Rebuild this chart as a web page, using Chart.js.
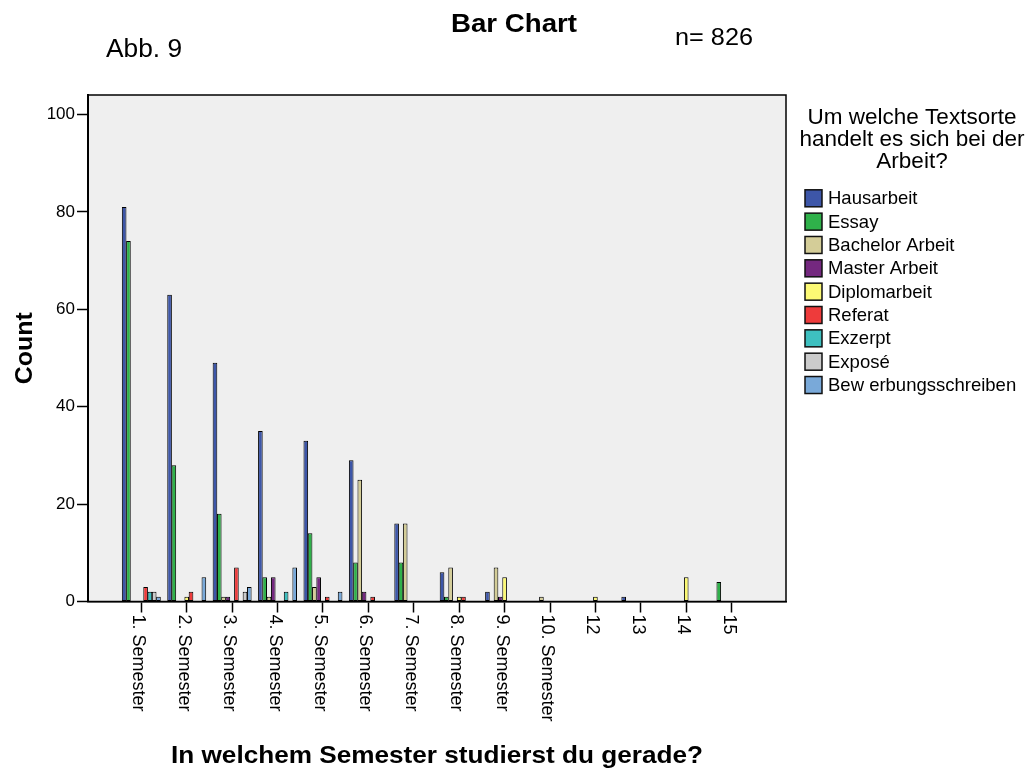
<!DOCTYPE html>
<html>
<head>
<meta charset="utf-8">
<script src="https://cdn.jsdelivr.net/npm/chart.js@4.4.1/dist/chart.umd.min.js"></script>
<style>
  html, body { margin: 0; padding: 0; background: #fff; }
  #wrap { width: 1029px; height: 769px; }
</style>
</head>
<body>
<div id="wrap"><canvas id="chart" width="1029" height="769"></canvas></div>
<script>
// Kategorien (x-Achse)
const semesterLabels = ['1. Semester', '2. Semester', '3. Semester', '4. Semester', '5. Semester',
  '6. Semester', '7. Semester', '8. Semester', '9. Semester', '10. Semester', '12', '13', '14', '15'];

// Anzahl je Textsorte, in der Reihenfolge der Kategorien
const hausarbeit     = [81, 63, 49, 35, 33, 29, 16, 6, 2, 0, 0, 1, 0, 0];
const essay          = [74, 28, 18, 5, 14, 8, 8, 1, 0, 0, 0, 0, 0, 4];
const bachelorArbeit = [0, 0, 1, 1, 3, 25, 16, 7, 7, 1, 0, 0, 0, 0];
const masterArbeit   = [0, 0, 1, 5, 5, 2, 0, 0, 1, 0, 0, 0, 0, 0];
const diplomarbeit   = [0, 1, 0, 0, 0, 0, 0, 1, 5, 0, 1, 0, 5, 0];
const referat        = [3, 2, 7, 0, 1, 1, 0, 1, 0, 0, 0, 0, 0, 0];
const exzerpt        = [2, 0, 0, 2, 0, 0, 0, 0, 0, 0, 0, 0, 0, 0];
const expose         = [2, 0, 2, 0, 0, 0, 0, 0, 0, 0, 0, 0, 0, 0];
const bewerbung      = [1, 5, 3, 7, 2, 0, 0, 0, 0, 0, 0, 0, 0, 0];

const seriesNames = ['Hausarbeit', 'Essay', 'Bachelor Arbeit', 'Master Arbeit', 'Diplomarbeit',
  'Referat', 'Exzerpt', 'Exposé', 'Bew erbungsschreiben'];
const seriesData = [hausarbeit, essay, bachelorArbeit, masterArbeit, diplomarbeit,
  referat, exzerpt, expose, bewerbung];
const seriesColors = ['#3d56a8', '#2fb14a', '#d4cd98', '#74287f', '#fcf974',
  '#ee3b3b', '#3ec0c0', '#cbcbcb', '#79a9d9'];

const yTickValues = [0, 20, 40, 60, 80, 100];

const legendTitle = ['Um welche Textsorte', 'handelt es sich bei der', 'Arbeit?'];
const FONT = "'Liberation Sans', Arial, sans-serif";

// text squeezed/stretched to a given width
function fitText(ctx, text, x, y, width, align) {
  const w = ctx.measureText(text).width;
  ctx.save();
  ctx.translate(x, y);
  ctx.scale(width ? width / w : 1, 1);
  ctx.textAlign = align || 'left';
  ctx.fillText(text, 0, 0);
  ctx.restore();
}

const decorations = {
  id: 'decorations',
  beforeDraw(chart) {
    const { ctx, chartArea: a } = chart;
    ctx.save();
    ctx.fillStyle = '#fff';
    ctx.fillRect(0, 0, chart.width, chart.height);
    ctx.fillStyle = '#efefef';
    ctx.fillRect(a.left, a.top, a.right - a.left, a.bottom - a.top);
    ctx.restore();
  },
  afterDraw(chart) {
    const { ctx, chartArea: a } = chart;
    const xs = chart.scales.x;
    ctx.save();

    // frame
    ctx.strokeStyle = '#000';
    ctx.lineWidth = 1.5;
    ctx.strokeRect(a.left, a.top, a.right - a.left, a.bottom - a.top);

    ctx.fillStyle = '#000';
    ctx.textBaseline = 'alphabetic';

    // header
    ctx.font = 'bold 25px ' + FONT;
    fitText(ctx, 'Bar Chart', 514, 32, 126, 'center');
    ctx.font = '23px ' + FONT;
    fitText(ctx, 'n= 826', 675, 45, 78, 'left');
    ctx.font = '26px ' + FONT;
    fitText(ctx, 'Abb. 9', 106, 57, 76, 'left');

    // x axis title
    ctx.font = 'bold 24px ' + FONT;
    fitText(ctx, 'In welchem Semester studierst du gerade?', (a.left + a.right) / 2, 763, 532, 'center');

    // y axis title
    ctx.save();
    ctx.translate(32, (a.top + a.bottom) / 2);
    ctx.rotate(-Math.PI / 2);
    ctx.font = 'bold 24px ' + FONT;
    fitText(ctx, 'Count', 0, 0, 72, 'center');
    ctx.restore();

    // x tick labels, rotated clockwise
    ctx.font = '18px ' + FONT;
    ctx.textBaseline = 'middle';
    semesterLabels.forEach((lab, i) => {
      const px = xs.getPixelForValue(i + 1);
      ctx.save();
      ctx.translate(px - 3, a.bottom + 13);
      ctx.rotate(Math.PI / 2);
      ctx.textAlign = 'left';
      ctx.fillText(lab, 0, 0);
      ctx.restore();
    });

    // legend
    ctx.font = '22.5px ' + FONT;
    ctx.textAlign = 'center';
    legendTitle.forEach((line, i) => ctx.fillText(line, 912, 118 + i * 21.7));

    ctx.font = '18.5px ' + FONT;
    ctx.textAlign = 'left';
    seriesNames.forEach((name, k) => {
      const cy = 198.3 + k * 23.34;
      ctx.fillStyle = seriesColors[k];
      ctx.fillRect(805, cy - 8.5, 17, 17);
      ctx.strokeStyle = '#111';
      ctx.lineWidth = 1.5;
      ctx.strokeRect(805, cy - 8.5, 17, 17);
      ctx.fillStyle = '#000';
      ctx.fillText(name, 828, cy + 1);
    });

    ctx.restore();
  }
};

const datasets = seriesNames.map((name, k) => ({
  label: name,
  data: seriesData[k].map((v, i) => ({ x: i + 1, y: v === 0 ? null : v })),
  backgroundColor: seriesColors[k],
  borderColor: '#000',
  borderWidth: 1,
  borderSkipped: false,
  inflateAmount: 0,
  categoryPercentage: 0.85,
  barPercentage: 1.08
}));

new Chart(document.getElementById('chart'), {
  type: 'bar',
  data: { datasets: datasets },
  options: {
    responsive: false,
    animation: false,
    layout: { padding: { top: 95, right: 243, bottom: 0, left: 0 } },
    plugins: {
      legend: { display: false },
      tooltip: { enabled: false },
      title: { display: false }
    },
    scales: {
      x: {
        type: 'linear',
        min: -0.174,
        max: 15.197,
        offset: false,
        afterBuildTicks: s => { s.ticks = semesterLabels.map((_, i) => ({ value: i + 1 })); },
        afterFit: s => { s.height = 769 - 601.5; },
        ticks: { display: false },
        grid: { offset: false, drawOnChartArea: false, drawTicks: true, tickLength: 11, tickColor: '#000', tickWidth: 1.5 },
        border: { color: '#000', width: 1.5 }
      },
      y: {
        min: 0,
        max: 104,
        afterBuildTicks: s => { s.ticks = yTickValues.map(v => ({ value: v })); },
        afterFit: s => { s.width = 88; },
        ticks: { color: '#000', font: { family: FONT, size: 17 }, padding: 2 },
        grid: { drawOnChartArea: false, tickLength: 11, tickColor: '#000', tickWidth: 1.5 },
        border: { color: '#000', width: 2 }
      }
    }
  },
  plugins: [decorations]
});
</script>
</body>
</html>
